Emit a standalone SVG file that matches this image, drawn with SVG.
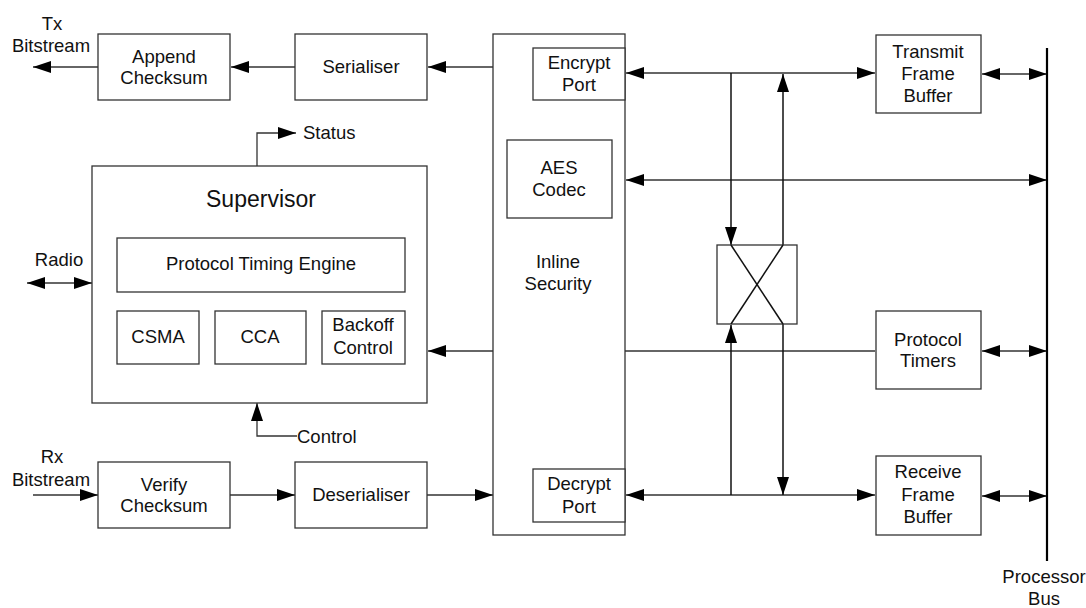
<svg xmlns="http://www.w3.org/2000/svg" width="1086" height="608" viewBox="0 0 1086 608">
<style>
.box{fill:#fff;stroke:#333;stroke-width:1.3}
.t{font-family:"Liberation Sans",Arial,sans-serif;font-size:18.5px;fill:#111;text-anchor:middle}
.ts{text-anchor:start}
.big{font-size:23px}
.c{fill:none;stroke:#333;stroke-width:1.3}
.k{fill:none;stroke:#111;stroke-width:1.5}
.bus{fill:none;stroke:#000;stroke-width:2.2}
</style>
<defs>
<marker id="a" markerUnits="userSpaceOnUse" markerWidth="19" markerHeight="13" viewBox="0 0 19 13" refX="18" refY="6.5" orient="auto-start-reverse">
<path d="M0,0.5 L18,6.5 L0,12.5 z" fill="#000"/>
</marker>
</defs>
<rect width="1086" height="608" fill="#fff"/>

<g id="connectors">
<line class="c" x1="98" y1="67" x2="33" y2="67" marker-end="url(#a)"/>
<line class="c" x1="295" y1="67" x2="231" y2="67" marker-end="url(#a)"/>
<line class="c" x1="493" y1="67" x2="428" y2="67" marker-end="url(#a)"/>
<polyline class="c" points="257,166 257,133 296,133" marker-end="url(#a)"/>
<line class="c" x1="27" y1="283" x2="92" y2="283" marker-start="url(#a)" marker-end="url(#a)"/>
<polyline class="c" points="297,436 257,436 257,403" marker-end="url(#a)"/>
<line class="c" x1="493" y1="351" x2="428" y2="351" marker-end="url(#a)"/>
<line class="c" x1="33" y1="495" x2="98" y2="495" marker-end="url(#a)"/>
<line class="c" x1="230" y1="495" x2="295" y2="495" marker-end="url(#a)"/>
<line class="c" x1="427" y1="495" x2="493" y2="495" marker-end="url(#a)"/>
<line class="c" x1="626" y1="73" x2="875" y2="73" marker-start="url(#a)" marker-end="url(#a)"/>
<line class="c" x1="626" y1="180" x2="1047" y2="180" marker-start="url(#a)" marker-end="url(#a)"/>
<line class="c" x1="625" y1="351" x2="875" y2="351"/>
<line class="c" x1="626" y1="495" x2="875" y2="495" marker-start="url(#a)" marker-end="url(#a)"/>
<line class="k" x1="731" y1="73" x2="731" y2="245" marker-end="url(#a)"/>
<line class="k" x1="783" y1="245" x2="783" y2="74" marker-end="url(#a)"/>
<line class="k" x1="731" y1="495" x2="731" y2="325" marker-end="url(#a)"/>
<line class="k" x1="783" y1="324" x2="783" y2="495" marker-end="url(#a)"/>
<line class="c" x1="982" y1="74" x2="1047" y2="74" marker-start="url(#a)" marker-end="url(#a)"/>
<line class="c" x1="982" y1="351" x2="1047" y2="351" marker-start="url(#a)" marker-end="url(#a)"/>
<line class="c" x1="982" y1="496" x2="1047" y2="496" marker-start="url(#a)" marker-end="url(#a)"/>
</g>

<g id="bus">
<line class="bus" x1="1047" y1="48" x2="1047" y2="561"/>
<text class="t" x="1044" y="583">Processor</text>
<text class="t" x="1044" y="605">Bus</text>
</g>

<g id="tx-label"><text class="t" x="52" y="30">Tx</text><text class="t" x="51" y="52">Bitstream</text></g>
<g id="rx-label"><text class="t" x="52" y="463">Rx</text><text class="t" x="51" y="486">Bitstream</text></g>
<g id="radio-label"><text class="t" x="59" y="266">Radio</text></g>
<g id="status-label"><text class="t ts" x="303" y="139">Status</text></g>
<g id="control-label"><text class="t ts" x="297" y="443">Control</text></g>

<g id="append-checksum"><rect class="box" x="98" y="34" width="132" height="66"/><text class="t" x="164" y="63">Append</text><text class="t" x="164" y="84">Checksum</text></g>
<g id="serialiser"><rect class="box" x="295" y="34" width="132" height="66"/><text class="t" x="361" y="73">Serialiser</text></g>

<g id="supervisor">
<rect class="box" x="92" y="166" width="335" height="237"/>
<text class="t big" x="261" y="207">Supervisor</text>
</g>
<g id="protocol-timing-engine"><rect class="box" x="117" y="238" width="288" height="54"/><text class="t" x="261" y="270">Protocol Timing Engine</text></g>
<g id="csma"><rect class="box" x="117" y="311" width="82" height="53"/><text class="t" x="158" y="343">CSMA</text></g>
<g id="cca"><rect class="box" x="215" y="311" width="91" height="53"/><text class="t" x="260" y="343">CCA</text></g>
<g id="backoff-control"><rect class="box" x="322" y="311" width="83" height="53"/><text class="t" x="363" y="331">Backoff</text><text class="t" x="363" y="354">Control</text></g>

<g id="verify-checksum"><rect class="box" x="98" y="462" width="132" height="66"/><text class="t" x="164" y="491">Verify</text><text class="t" x="164" y="512">Checksum</text></g>
<g id="deserialiser"><rect class="box" x="295" y="462" width="132" height="66"/><text class="t" x="361" y="501">Deserialiser</text></g>

<g id="inline-security">
<rect class="box" x="493" y="34" width="132" height="501"/>
<text class="t" x="558" y="268">Inline</text>
<text class="t" x="558" y="290">Security</text>
</g>
<g id="encrypt-port"><rect class="box" x="533" y="48" width="92" height="52"/><text class="t" x="579" y="69">Encrypt</text><text class="t" x="579" y="91">Port</text></g>
<g id="aes-codec"><rect class="box" x="507" y="140" width="105" height="78"/><text class="t" x="559" y="174">AES</text><text class="t" x="559" y="196">Codec</text></g>
<g id="decrypt-port"><rect class="box" x="533" y="469" width="92" height="53"/><text class="t" x="579" y="490">Decrypt</text><text class="t" x="579" y="513">Port</text></g>

<g id="crossbar">
<rect class="box" x="717" y="245" width="80" height="79"/>
<line class="k" x1="731" y1="245" x2="783" y2="324"/>
<line class="k" x1="783" y1="245" x2="731" y2="324"/>
</g>

<g id="transmit-frame-buffer"><rect class="box" x="876" y="35" width="105" height="78"/><text class="t" x="928" y="58">Transmit</text><text class="t" x="928" y="80">Frame</text><text class="t" x="928" y="102">Buffer</text></g>
<g id="protocol-timers"><rect class="box" x="876" y="311" width="105" height="78"/><text class="t" x="928" y="346">Protocol</text><text class="t" x="928" y="367">Timers</text></g>
<g id="receive-frame-buffer"><rect class="box" x="876" y="456" width="105" height="79"/><text class="t" x="928" y="478">Receive</text><text class="t" x="928" y="501">Frame</text><text class="t" x="928" y="523">Buffer</text></g>
</svg>
